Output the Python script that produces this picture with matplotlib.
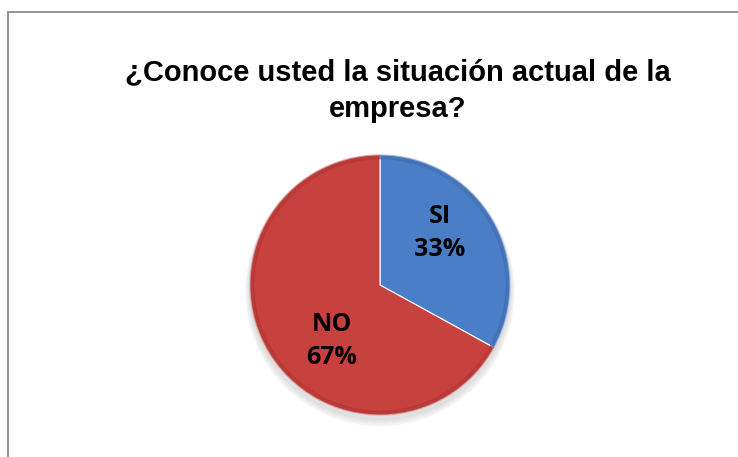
import matplotlib.pyplot as plt
from matplotlib.patches import Rectangle, Wedge, Circle

# chart data
categories = ['SI', 'NO']
values = [33, 67]
colors = ['#4A7EC6', '#C7423F']
title = '¿Conoce usted la situación actual de la\nempresa?'

W, H = 738, 457
fig = plt.figure(figsize=(W / 100, H / 100), dpi=100)

# outer chart frame (right and bottom edges fall outside the picture)
fig.patches.append(Rectangle((8 / W, -0.05), 1.1, (H - 12) / H + 0.05,
                             transform=fig.transFigure, fill=False,
                             edgecolor='#8C8C8C', linewidth=1.3))

fig.text(398 / W, 1 - 91 / H, title, ha='center', va='center',
         fontsize=21, fontweight='bold', family='Liberation Sans',
         linespacing=1.4)

cx, cy, r = 380, 285, 130
ax = fig.add_axes([(cx - r) / W, (H - cy - r) / H, 2 * r / W, 2 * r / H])

# soft shadow under the pie
for k in range(5):
    ax.add_patch(Circle((0.0, -0.035 - k * 0.004), 1.0 + k * 0.008,
                        color='black', alpha=0.025, zorder=0, clip_on=False))

wedges, texts = ax.pie(values, colors=colors, startangle=90, counterclock=False,
                       radius=1.0, labels=None,
                       wedgeprops=dict(edgecolor='white', linewidth=0.8))
for w in wedges:
    w.set_zorder(2)
    w.set_clip_on(False)

# darker rim to hint at the bevelled look
for w, c in zip(wedges, ['#3A67A8', '#A8302E']):
    ax.add_patch(Wedge((0, 0), 1.0, w.theta1, w.theta2, width=0.03,
                       color=c, alpha=0.35, zorder=3, clip_on=False))

# data labels, placed where the original puts them
label_pos = [(0.46, 0.40), (-0.37, -0.43)]
for cat, v, (x, y) in zip(categories, values, label_pos):
    ax.text(x, y, f'{cat}\n{v}%', ha='center', va='center', fontsize=18,
            fontweight='bold', family='Open Sans', linespacing=1.45, zorder=5)

ax.set_xlim(-1, 1)
ax.set_ylim(-1, 1)
ax.set_aspect('equal')
ax.axis('off')

fig.savefig('out.png', dpi=100)
